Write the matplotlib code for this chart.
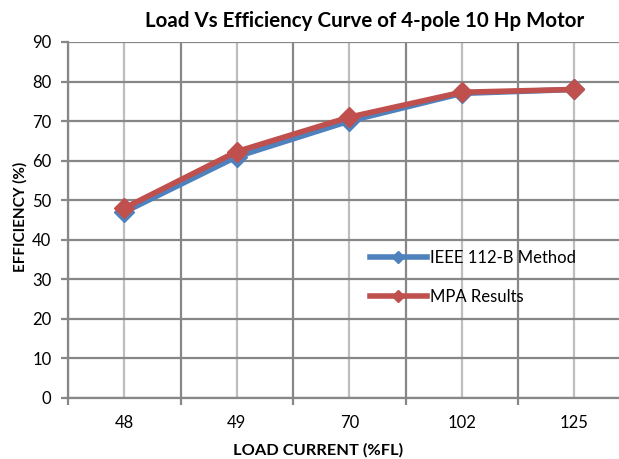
import numpy as np
import matplotlib
matplotlib.use("Agg")
from matplotlib import pyplot as plt

# chart data
categories = ["48", "49", "70", "102", "125"]
ieee_values = [47, 61, 70, 77, 78]
mpa_values = [48, 62.3, 71, 77.3, 78]

plt.rcParams['font.family'] = ['Lato', 'DejaVu Sans']

fig = plt.figure(figsize=(6.19, 4.59), dpi=100)
# plot area runs past the right edge (the reference is cropped there)
ax = fig.add_axes([0.1099, 0.1329, 0.9087, 0.7756])

x = np.arange(len(categories))
ax.plot(x, ieee_values, color='#4F81BD', lw=4, marker='D', ms=10,
        label='IEEE 112-B Method', zorder=3, clip_on=False)
ax.plot(x, mpa_values, color='#C0504D', lw=4, marker='D', ms=10,
        label='MPA Results', zorder=4, clip_on=False)

ax.set_xlim(-0.5, len(categories) - 0.5)
ax.set_ylim(0, 90)
ax.set_yticks(np.arange(0, 91, 10))
ax.set_xticks(x)
ax.set_xticklabels(categories)
ax.set_xticks(np.arange(-0.5, len(categories)), minor=True)

ax.grid(axis='y', color='#878787', lw=1.6)
ax.grid(axis='x', which='major', color='#BEBEBE', lw=1.6)
ax.grid(axis='x', which='minor', color='#878787', lw=1.6)
ax.set_axisbelow(True)

ax.tick_params(axis='x', which='major', length=0, pad=12, labelsize=12, colors='#000000')
ax.tick_params(axis='x', which='minor', length=5, width=1.6, color='#878787')
ax.tick_params(axis='y', length=5, width=1.6, color='#878787', pad=7, labelsize=12,
               labelcolor='#000000')

for s in ['top', 'right']:
    ax.spines[s].set_visible(False)
for s in ['left', 'bottom']:
    ax.spines[s].set_color('#878787')
    ax.spines[s].set_linewidth(1.6)

fig.text(318 / 619, 1 - 450 / 459, 'LOAD CURRENT (%FL)', ha='center', va='center',
         fontsize=11.8, fontweight='bold')
fig.text(20 / 619, 1 - 217 / 459, 'EFFICIENCY (%)', ha='center', va='center',
         rotation=90, fontsize=11, fontweight='bold')
fig.text(365 / 619, 1 - 21 / 459, 'Load Vs Efficiency Curve of 4-pole 10 Hp Motor',
         ha='center', va='center', fontsize=14.8, fontweight='bold')

ax.legend(loc='center left', bbox_to_anchor=(370 / 619, 1 - 277.5 / 459),
          bbox_transform=fig.transFigure,
          frameon=False, borderpad=0, borderaxespad=0, handlelength=3.4,
          handletextpad=0.2, labelspacing=1.35, markerscale=0.6, fontsize=12)

fig.savefig('out.png', dpi=100)
